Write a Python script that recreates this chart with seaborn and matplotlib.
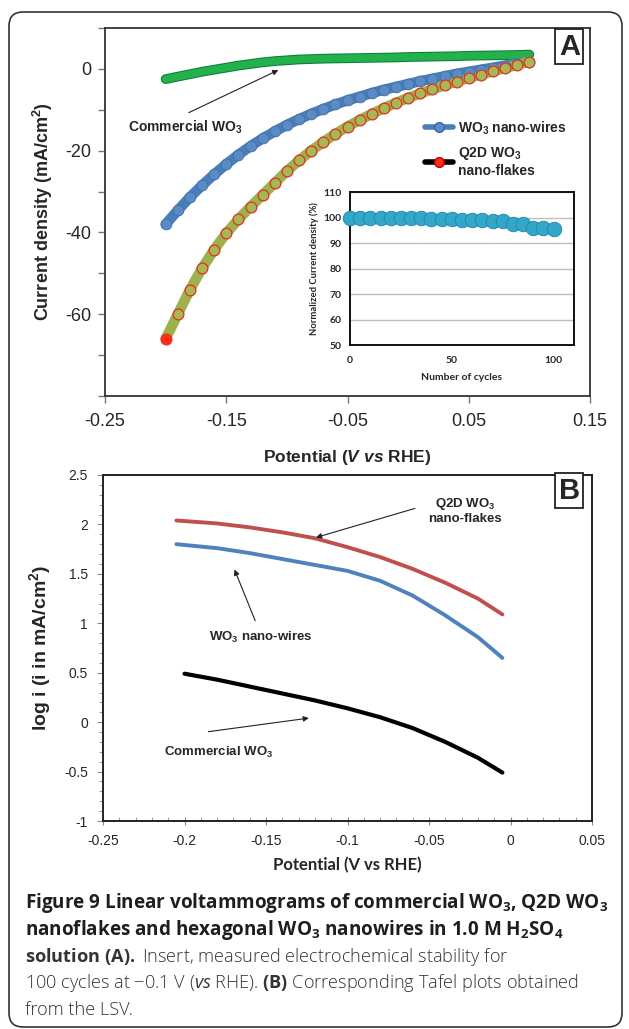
import numpy as np
import matplotlib
matplotlib.use('Agg')
import matplotlib.pyplot as plt
import matplotlib.patheffects as pe
import seaborn as sns
from matplotlib.patches import FancyBboxPatch
from matplotlib.lines import Line2D
from matplotlib.transforms import IdentityTransform
from matplotlib.ticker import MultipleLocator, FuncFormatter

# ---- panel A: linear sweep voltammograms ----
lsv_potential = [-0.20, -0.19, -0.18, -0.17, -0.16, -0.15, -0.14, -0.13, -0.12, -0.11,
                 -0.10, -0.09, -0.08, -0.07, -0.06, -0.05, -0.04, -0.03, -0.02, -0.01,
                 0.00, 0.01, 0.02, 0.03, 0.04, 0.05, 0.06, 0.07, 0.08, 0.09, 0.10]
commercial_j = [-2.5, -1.9, -1.3, -0.7, -0.2, 0.3, 0.8, 1.2, 1.6, 1.9,
                2.1, 2.3, 2.4, 2.5, 2.55, 2.6, 2.65, 2.7, 2.75, 2.8,
                2.9, 2.95, 3.0, 3.05, 3.1, 3.2, 3.25, 3.3, 3.35, 3.4, 3.5]
nanowire_j = [-38.0, -34.6, -31.4, -28.5, -25.8, -23.3, -21.0, -18.9, -17.0, -15.3,
              -13.7, -12.3, -11.0, -9.8, -8.7, -7.7, -6.8, -5.9, -5.1, -4.4,
              -3.7, -3.0, -2.4, -1.8, -1.2, -0.7, -0.2, 0.3, 0.8, 1.3, 1.8]
nanoflake_j = [-66.0, -60.0, -54.0, -48.8, -44.2, -40.2, -36.8, -33.7, -30.8, -27.9,
               -25.0, -22.4, -20.0, -17.9, -15.9, -14.1, -12.5, -11.0, -9.6, -8.3,
               -7.1, -6.0, -5.0, -4.0, -3.1, -2.2, -1.4, -0.6, 0.2, 1.0, 1.8]

# ---- inset: stability ----
cycles = [0, 5, 10, 15, 20, 25, 30, 35, 40, 45, 50, 55, 60, 65, 70, 75, 80, 85, 90, 95, 100]
stability = [100, 100, 100, 100, 100, 100, 100, 100, 99.5, 99.5, 99.5,
             99, 99, 99, 98.5, 98.5, 97.5, 97.5, 96, 96, 95.5]

# ---- panel B: Tafel plots ----
tafel_potential = [-0.205, -0.18, -0.16, -0.14, -0.12, -0.10, -0.08, -0.06, -0.04, -0.02, -0.005]
tafel_flakes = [2.04, 2.01, 1.97, 1.92, 1.86, 1.77, 1.67, 1.55, 1.41, 1.25, 1.09]
tafel_wires = [1.80, 1.76, 1.71, 1.65, 1.59, 1.53, 1.43, 1.28, 1.08, 0.86, 0.65]
commercial_potential = [-0.20, -0.18, -0.16, -0.14, -0.12, -0.10, -0.08, -0.06, -0.04, -0.02, -0.005]
tafel_commercial = [0.49, 0.43, 0.36, 0.29, 0.22, 0.14, 0.05, -0.06, -0.20, -0.36, -0.51]

sns.set_style('white')
plt.rcParams['font.family'] = ['Liberation Sans', 'DejaVu Sans']
plt.rcParams['axes.unicode_minus'] = False
plt.rcParams['mathtext.fontset'] = 'custom'
plt.rcParams['mathtext.default'] = 'regular'
plt.rcParams['mathtext.rm'] = 'Open Sans'
plt.rcParams['mathtext.bf'] = 'Open Sans:bold'
plt.rcParams['mathtext.it'] = 'Open Sans:italic'
plt.rcParams['mathtext.sf'] = 'Liberation Sans:bold:italic'

fmt = FuncFormatter(lambda v, p: '{:g}'.format(round(v, 3)))

fig = plt.figure(figsize=(6.29, 10.29), dpi=100)
fig.patches.append(FancyBboxPatch((9, 2), 613, 1015, boxstyle='round,pad=0,rounding_size=14',
                                  transform=IdentityTransform(), fill=False, ec='#333333', lw=1.2))

axA = fig.add_axes([0.167, 0.6152, 0.771, 0.3576])
axB = fig.add_axes([0.1638, 0.2021, 0.7774, 0.3363])
axI = fig.add_axes([0.5564, 0.6647, 0.3561, 0.1487])

# panel A curves
sns.lineplot(x=lsv_potential, y=commercial_j, ax=axA, color='#22b14c', lw=5.5, legend=False,
             path_effects=[pe.Stroke(linewidth=7, foreground='#0e7d35'), pe.Normal()])
sns.lineplot(x=lsv_potential, y=nanowire_j, ax=axA, color='#4a7ebb', lw=7.5, legend=False)
sns.scatterplot(x=lsv_potential, y=nanowire_j, ax=axA, s=60, color='#5a8bc7',
                edgecolor='#41709f', linewidth=0.6, zorder=3, legend=False)
sns.lineplot(x=lsv_potential, y=nanoflake_j, ax=axA, color='#9fb04e', lw=7.5, legend=False)
sns.scatterplot(x=lsv_potential, y=nanoflake_j, ax=axA, s=60, color='#a6b755',
                edgecolor='#e3321f', linewidth=0.9, zorder=3, legend=False)
axA.plot(lsv_potential[0], nanoflake_j[0], 'o', ms=7, color='#ff2a1a', zorder=4)

axA.set_xlim(-0.25, 0.15)
axA.set_ylim(-80, 10)
axA.set_xticks([-0.25, -0.15, -0.05, 0.05, 0.15])
axA.set_yticks([-60, -40, -20, 0])
axA.yaxis.set_minor_locator(MultipleLocator(10))
axA.xaxis.set_major_formatter(fmt)
axA.yaxis.set_major_formatter(fmt)
axA.tick_params(axis='both', which='both', direction='out', length=5, width=1, color='#777777',
                labelsize=13, bottom=True, left=True)
axA.tick_params(axis='x', pad=7)
axA.tick_params(axis='y', pad=5)
for s in axA.spines.values():
    s.set_color('#333333')
    s.set_linewidth(1.3)
axA.set_xlabel(r'Potential ($\mathsf{V\ vs}$ RHE)', fontsize=12.5, fontweight='bold', labelpad=13)
axA.set_ylabel('Current density (mA/cm$^2$)', fontsize=13, fontweight='bold', labelpad=7)

handles = [Line2D([], [], color='#4a7ebb', lw=4, marker='o', ms=7, mfc='#5b8cc8', mec='#3467a8'),
           Line2D([], [], color='black', lw=4, marker='o', ms=7, mfc='#ff2a1a', mec='#c00000')]
axA.legend(handles, ['WO$_3$ nano-wires', 'Q2D WO$_3$\nnano-flakes'], loc='upper left',
           bbox_to_anchor=(0.66, 0.752), frameon=False, handlelength=2.0, handletextpad=0.4,
           borderpad=0, borderaxespad=0, labelspacing=0.6, prop={'weight': 'bold', 'size': 10})

axA.annotate('', xy=(-0.105, 0.0), xytext=(-0.183, -11.0),
             arrowprops=dict(arrowstyle='-|>', color='#222222', lw=0.8, mutation_scale=8))
axA.text(-0.184, -14.3, 'Commercial WO$_3$', fontsize=10, fontweight='bold', ha='center', va='center')
axA.text(0.133, 5.4, 'A', fontsize=21, fontweight='bold', ha='center', va='center',
         bbox=dict(boxstyle='square,pad=0.12', fc='white', ec='#222222', lw=1.3))

# inset
sns.scatterplot(x=cycles, y=stability, ax=axI, s=110, color='#33a7c9', edgecolor='#1f86a6',
                linewidth=0.6, zorder=3, clip_on=False, legend=False)
axI.set_xlim(0, 110)
axI.set_ylim(50, 110)
axI.set_xticks([0, 50, 100])
axI.set_yticks([50, 60, 70, 80, 90, 100, 110])
axI.grid(axis='y', color='#bdbdbd', lw=1)
axI.set_axisbelow(True)
axI.tick_params(length=0, labelsize=7.5, pad=8)
axI.tick_params(axis='y', pad=6)
for lab in axI.get_xticklabels() + axI.get_yticklabels():
    lab.set_fontweight('bold')
    lab.set_family(['Lato', 'DejaVu Sans'])
for s in axI.spines.values():
    s.set_color('#111111')
    s.set_linewidth(1.4)
axI.set_xlabel('Number of cycles', fontsize=7.5, fontweight='bold', family=['Lato', 'DejaVu Sans'], labelpad=6)
axI.set_ylabel('Normalized Current density (%)', fontsize=6.8, fontweight='bold',
               family=['Lato', 'DejaVu Sans'], labelpad=3)

# panel B curves
sns.lineplot(x=tafel_potential, y=tafel_flakes, ax=axB, color='#c0504d', lw=2.8, legend=False)
sns.lineplot(x=tafel_potential, y=tafel_wires, ax=axB, color='#4f81bd', lw=2.8, legend=False)
sns.lineplot(x=commercial_potential, y=tafel_commercial, ax=axB, color='black', lw=3, legend=False)

axB.set_xlim(-0.25, 0.05)
axB.set_ylim(-1, 2.5)
axB.xaxis.set_major_locator(MultipleLocator(0.05))
axB.xaxis.set_minor_locator(MultipleLocator(0.01))
axB.yaxis.set_major_locator(MultipleLocator(0.5))
axB.yaxis.set_minor_locator(MultipleLocator(0.1))
axB.xaxis.set_major_formatter(fmt)
axB.yaxis.set_major_formatter(fmt)
axB.tick_params(axis='x', which='major', direction='inout', length=6, color='#888888', labelsize=10, pad=6, bottom=True)
axB.tick_params(axis='x', which='minor', direction='in', length=3, color='#888888', bottom=True)
axB.tick_params(axis='y', which='major', direction='out', length=4, color='#888888', labelsize=10, pad=7, left=True)
axB.tick_params(axis='y', which='minor', direction='out', length=3, color='#888888', left=True)
for s in axB.spines.values():
    s.set_color('#222222')
    s.set_linewidth(1.4)
axB.set_xlabel('Potential (V vs RHE)', fontsize=12, fontweight='bold', family=['Lato', 'DejaVu Sans'], labelpad=7)
axB.set_ylabel('log i (i in mA/cm$^2$)', fontsize=14, fontweight='bold', labelpad=8)

arrow = dict(arrowstyle='-|>', color='#222222', lw=0.8, mutation_scale=8)
axB.annotate('', xy=(-0.121, 1.86), xytext=(-0.057, 2.17), arrowprops=arrow)
axB.annotate('', xy=(-0.170, 1.57), xytext=(-0.156, 1.0), arrowprops=arrow)
axB.annotate('', xy=(-0.122, 0.045), xytext=(-0.187, -0.10), arrowprops=arrow)
bfont = dict(fontsize=9.5, fontweight='bold', family=['Liberation Sans Narrow', 'Liberation Sans'])
axB.text(-0.028, 2.14, 'Q2D WO$_3$\nnano-flakes', ha='center', va='center', linespacing=1.2, **bfont)
axB.text(-0.153, 0.86, 'WO$_3$ nano-wires', ha='center', va='center', **bfont)
axB.text(-0.179, -0.31, 'Commercial WO$_3$', ha='center', va='center', **bfont)
axB.text(0.036, 2.34, 'B', fontsize=21, fontweight='bold', ha='center', va='center',
         bbox=dict(boxstyle='square,pad=0.12', fc='white', ec='#222222', lw=1.3))

# caption
cap = dict(family=['Open Sans', 'DejaVu Sans'], ha='left', va='baseline')
cap_lines = [
    (r'Figure 9 Linear voltammograms of commercial WO$_3$, Q2D WO$_3$', 'bold', 13.6, '#1e1e1e'),
    (r'nanoflakes and hexagonal WO$_3$ nanowires in 1.0 M H$_2$SO$_4$', 'bold', 13.6, '#1e1e1e'),
    (r'$\mathbf{solution\ (A).}$ Insert, measured electrochemical stability for', 'light', 13.1, '#333333'),
    (r'100 cycles at −0.1 V ($\mathit{vs}$ RHE). $\mathbf{(B)}$ Corresponding Tafel plots obtained',
     'light', 13.1, '#333333'),
    ('from the LSV.', 'light', 13.1, '#333333'),
]
cap_baselines = [908, 935, 962, 988, 1015]
for (txt, w, size, col), b in zip(cap_lines, cap_baselines):
    fig.text(0.040, 1 - b / 1029, txt, fontweight=w, fontsize=size, color=col, **cap)

fig.savefig('out.png', dpi=100)
